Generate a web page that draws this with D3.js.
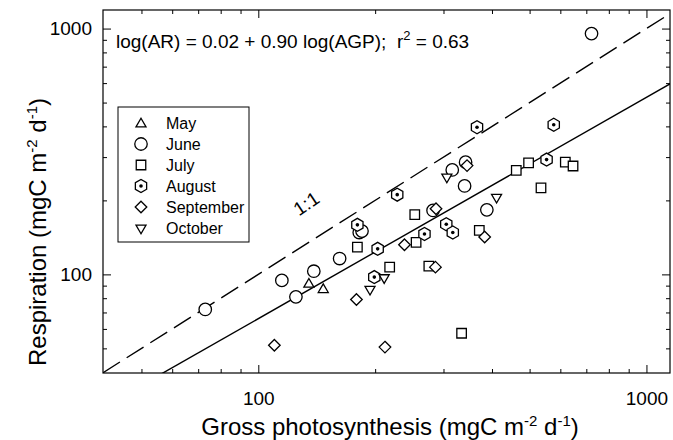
<!DOCTYPE html>
<html>
<head>
<meta charset="utf-8">
<script src="https://cdn.jsdelivr.net/npm/d3@7"></script>
<style>
  body { margin: 0; background: #fff; }
  svg { font-family: "Liberation Sans", Arial, sans-serif; }
</style>
</head>
<body>
<svg width="673" height="440"></svg>
<script>
// data: [gross photosynthesis, respiration]
const may = [[135, 92], [147, 87.5]];
const june = [[73, 72], [115, 94.5], [125, 81], [139, 103], [162, 116], [182, 148], [185, 150],
  [282, 182], [316, 266], [342, 286], [340, 229], [388, 183], [722, 954]];
const july = [[180, 129], [218, 107], [275, 108], [255, 135], [253, 175], [371, 151], [462, 265],
  [497, 284], [618, 286], [647, 276], [535, 225], [334, 57.6]];
const august = [[180, 159], [203, 127], [199, 97.5], [228, 211], [268, 146], [305, 160], [317, 148],
  [366, 397], [577, 406], [553, 293]];
const september = [[110, 51.5], [212, 50.6], [179, 79], [238, 132], [287, 185], [345, 277], [383, 142], [286, 107]];
const october = [[194, 87], [211, 97], [306, 249], [411, 206]];

const months = ["May", "June", "July", "August", "September", "October"];
const xMinor = [50, 60, 70, 80, 90, 200, 300, 400, 500, 600, 700, 800, 900];
const yMinor = [50, 60, 70, 80, 90, 200, 300, 400, 500, 600, 700, 800, 900];
const majorTicks = [100, 1000];
const fit = {a: 0.02, b: 0.90};

const svg = d3.select("svg");
const pLeft = 103, pRight = 670, pTop = 10, pBottom = 373;

let xScale = d3.scaleLog().domain([39.8, 1150]).range([pLeft, pRight]);
let yScale = d3.scaleLog().domain([39.7, 1190]).range([pBottom, pTop]);

// clip for the lines
svg.append("clipPath").attr("id", "plotClip")
  .append("rect").attr("x", pLeft).attr("y", pTop)
  .attr("width", pRight - pLeft).attr("height", pBottom - pTop);

// frame
svg.append("rect")
  .attr("x", pLeft).attr("y", pTop)
  .attr("width", pRight - pLeft).attr("height", pBottom - pTop)
  .attr("fill", "none").attr("stroke", "#000").attr("stroke-width", 1.2);

// axes, ticks pointing inwards
function addAxis(axisFn, scale, tr, vals, size, labels, pad) {
  let ax = axisFn(scale).tickValues(vals).tickSizeInner(-size).tickSizeOuter(0)
    .tickPadding(pad).tickFormat(labels ? d3.format("d") : "");
  let g = svg.append("g").attr("transform", tr).call(ax);
  g.select(".domain").remove();
  g.selectAll("line").attr("stroke", "#000").attr("stroke-width", 1);
  g.selectAll("text").attr("font-size", 19).attr("fill", "#000")
    .attr("font-family", "Liberation Sans, Arial, sans-serif");
  return g;
}
addAxis(d3.axisBottom, xScale, `translate(0,${pBottom})`, xMinor, 4, false, 0);
addAxis(d3.axisBottom, xScale, `translate(0,${pBottom})`, majorTicks, 8, true, 19);
addAxis(d3.axisTop, xScale, `translate(0,${pTop})`, xMinor, 4, false, 0);
addAxis(d3.axisTop, xScale, `translate(0,${pTop})`, majorTicks, 8, false, 0);
addAxis(d3.axisLeft, yScale, `translate(${pLeft},0)`, yMinor, 4, false, 0);
addAxis(d3.axisLeft, yScale, `translate(${pLeft},0)`, majorTicks, 8, true, 11);
addAxis(d3.axisRight, yScale, `translate(${pRight},0)`, yMinor, 4, false, 0);
addAxis(d3.axisRight, yScale, `translate(${pRight},0)`, majorTicks, 8, false, 0);

// 1:1 line and regression line
const xs = xScale.domain();
let oneToOne = d3.line().x(d => xScale(d)).y(d => yScale(d));
svg.append("path")
  .attr("d", oneToOne(xs))
  .attr("clip-path", "url(#plotClip)")
  .attr("fill", "none").attr("stroke", "#000").attr("stroke-width", 1.4)
  .attr("stroke-dasharray", "20,8");

let fitLine = d3.line().x(d => xScale(d)).y(d => yScale(Math.pow(10, fit.a + fit.b * Math.log10(d))));
svg.append("path")
  .attr("d", fitLine(xs))
  .attr("clip-path", "url(#plotClip)")
  .attr("fill", "none").attr("stroke", "#000").attr("stroke-width", 1.4);

// symbols
function hexPath(r) {
  let pts = d3.range(6).map(i => {
    let a = Math.PI / 6 + i * Math.PI / 3;
    return [r * Math.cos(a), r * Math.sin(a)];
  });
  return "M" + pts.join("L") + "Z";
}
const shapes = {
  May: d3.symbol().type(d3.symbolTriangle2).size(72)(),
  June: d3.symbol().type(d3.symbolCircle).size(122)(),
  July: d3.symbol().type(d3.symbolSquare2).size(115)(),
  August: hexPath(6.5),
  September: d3.symbol().type(d3.symbolDiamond2).size(85)(),
  October: d3.symbol().type(d3.symbolTriangle2).size(72)()
};

function drawMark(g, month) {
  let p = g.append("path").attr("d", shapes[month])
    .attr("fill", "#fff").attr("stroke", "#000").attr("stroke-width", 1.3);
  if (month === "October") p.attr("transform", "rotate(180)");
  if (month === "May") p.attr("transform", "translate(0,1)");
  if (month === "August") {
    g.append("circle").attr("r", 1.8).attr("fill", "#000");
  }
}

const series = [may, june, july, august, september, october];
series.forEach((data, i) => {
  svg.append("g").attr("class", months[i])
    .selectAll("g").data(data).join("g")
    .attr("transform", d => `translate(${xScale(d[0])},${yScale(d[1])})`)
    .each(function() { drawMark(d3.select(this), months[i]); });
});

// legend
let legend = svg.append("g").attr("transform", "translate(118,107)");
legend.append("rect").attr("width", 131).attr("height", 135)
  .attr("fill", "#fff").attr("stroke", "#000").attr("stroke-width", 1);
months.forEach((m, i) => {
  let row = legend.append("g").attr("transform", `translate(23,${16 + i * 21})`);
  drawMark(row, m);
  row.append("text").attr("x", 25).attr("y", 5.5).attr("font-size", 16).text(m);
});

// equation
let eq = svg.append("text").attr("x", 116).attr("y", 48).attr("font-size", 19)
  .attr("xml:space", "preserve").style("white-space", "pre");
eq.append("tspan").text("log(AR) = 0.02 + 0.90 log(AGP);  r");
eq.append("tspan").attr("font-size", 13).attr("dy", -8).text("2");
eq.append("tspan").attr("dy", 8).text(" = 0.63");

// 1:1 label
svg.append("text").attr("transform", "translate(310,209) rotate(-34)")
  .attr("text-anchor", "middle").attr("font-size", 19).text("1:1");

// axis titles
function unitsTitle(t, main) {
  t.append("tspan").text(main + " (mgC m");
  t.append("tspan").attr("font-size", 15).attr("dy", -9).text("-2");
  t.append("tspan").attr("dy", 9).text(" d");
  t.append("tspan").attr("font-size", 15).attr("dy", -9).text("-1");
  t.append("tspan").attr("dy", 9).text(")");
}
let xt = svg.append("text").attr("x", 390).attr("y", 435)
  .attr("text-anchor", "middle").attr("font-size", 24);
unitsTitle(xt, "Gross photosynthesis");
let yt = svg.append("text").attr("transform", "translate(46,232) rotate(-90)")
  .attr("text-anchor", "middle").attr("font-size", 24);
unitsTitle(yt, "Respiration");
</script>
</body>
</html>
